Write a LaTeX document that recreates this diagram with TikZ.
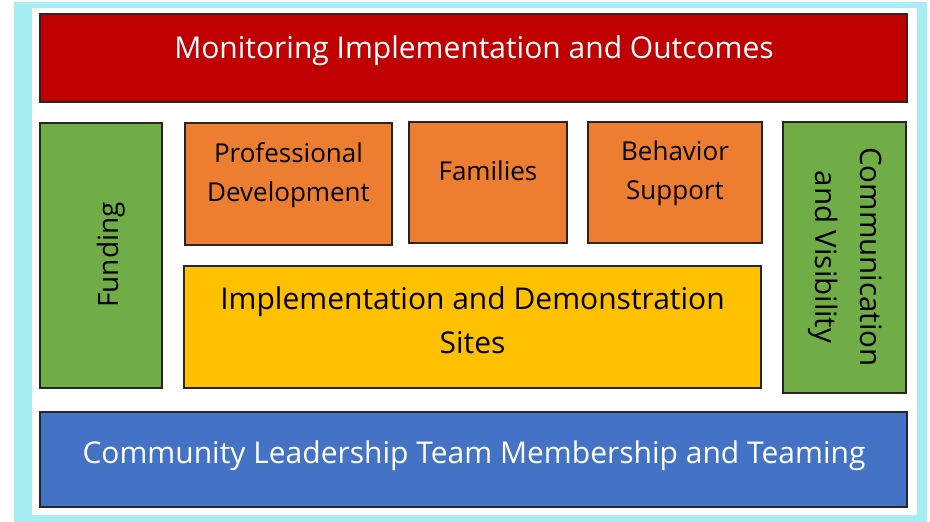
\documentclass[tikz,border=0pt]{standalone}
\usepackage{fontspec}
\setmainfont{Open Sans}
\definecolor{frame}{HTML}{A6EEF4}
\definecolor{cred}{HTML}{C00000}
\definecolor{cgreen}{HTML}{70AD47}
\definecolor{corange}{HTML}{ED7D31}
\definecolor{cyellow}{HTML}{FFC000}
\definecolor{cblue}{HTML}{4472C4}
\tikzset{
  box/.style={draw=black!85, line width=1.8pt, rectangle, inner sep=0pt},
  big/.style={font=\fontsize{30}{35}\selectfont},
  mid/.style={font=\fontsize{26}{39}\selectfont, align=center},
}
\begin{document}
\begin{tikzpicture}[x=1pt,y=-1pt]
\useasboundingbox (0,0) rectangle (930,522);
\fill[frame] (14,2) rectangle (927,522);
\fill[white] (32,8) rectangle (917,515);

\node[box, fill=cred, minimum width=867pt, minimum height=88pt] (mon) at (473.5,58) {};
\node[box, fill=cgreen, minimum width=122pt, minimum height=265pt] (fund) at (101,255.5) {};
\node[box, fill=corange, minimum width=207pt, minimum height=122pt] (pd) at (288.5,184) {};
\node[box, fill=corange, minimum width=158pt, minimum height=121pt] (fam) at (488,182.5) {};
\node[box, fill=corange, minimum width=174pt, minimum height=121pt] (beh) at (675,182.5) {};
\node[box, fill=cyellow, minimum width=577pt, minimum height=122pt] (ids) at (472.5,327) {};
\node[box, fill=cgreen, minimum width=123pt, minimum height=271pt] (com) at (844.5,257.5) {};
\node[box, fill=cblue, minimum width=867pt, minimum height=95pt] (clt) at (473.5,459.5) {};

\node[big, text=white, anchor=base] (tmon) at (474,58) {Monitoring Implementation and Outcomes};
\node[big, text=white, anchor=base] (tclt) at (474,463) {Community Leadership Team Membership and Teaming};
\node[mid, anchor=base] (tpd) at (288.5,201) {Professional\\Development};
\node[mid, anchor=base] (tfam) at (488,180) {Families};
\node[mid, anchor=base] (tbeh) at (675,199) {Behavior\\Support};
\node[mid, font=\fontsize{30}{44}\selectfont, anchor=base] (tids) at (472.5,353) {Implementation and Demonstration\\Sites};
\node[mid, font=\fontsize{28}{40}\selectfont, rotate=90, anchor=base] (tfund) at (118,255) {Funding};
\node[mid, font=\fontsize{29.5}{45}\selectfont, rotate=-90, anchor=base] (tcom) at (815,257) {Communication\\and Visibility};
\end{tikzpicture}
\end{document}
